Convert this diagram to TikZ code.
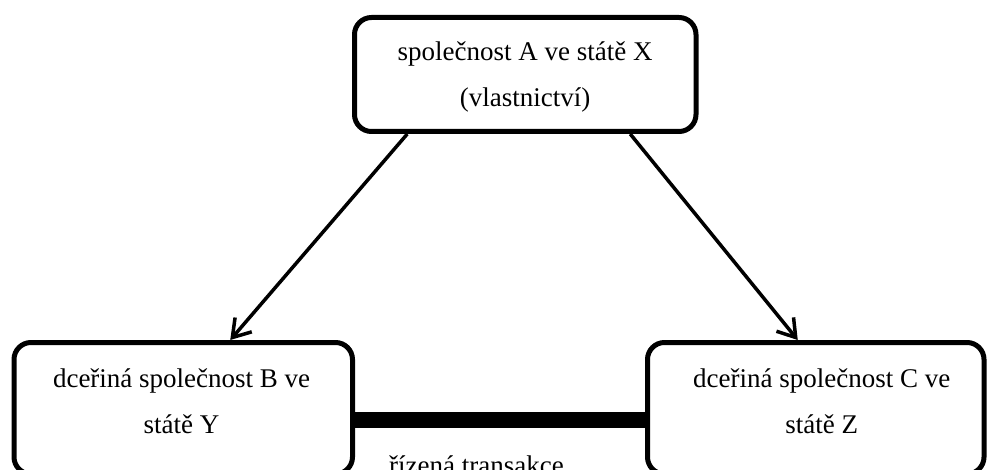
\documentclass[tikz,border=0pt]{standalone}
\usepackage{fontspec}
\setmainfont{Liberation Serif}
\usetikzlibrary{arrows.meta,calc}
\begin{document}
\begin{tikzpicture}[x=1pt,y=-1pt,
  box/.style={draw, line width=5pt, rounded corners=17pt, inner sep=0pt},
  txt/.style={align=center, font=\fontsize{27}{46}\selectfont, anchor=base, inner sep=0pt},
  arr/.style={line width=3.5pt, -{Straight Barb[length=17pt,width=22pt]}},
  link/.style={line width=16pt}]
\clip (0,0) rectangle (987,470);
% company boxes
\node[box, minimum width=341.5pt, minimum height=114pt] (A) at (525.25,74.5) {};
\node[box, minimum width=338.5pt, minimum height=131.5pt] (B) at (183.25,408.25) {};
\node[box, minimum width=336.5pt, minimum height=131.5pt] (C) at (815.75,408.25) {};
% box texts (anchored at the baseline of the last line)
\node[txt] (At) at (525,107) {společnost A ve státě X\\(vlastnictví)};
\node[txt] (Bt) at (181.6,433) {dceřiná společnost B ve\\státě Y};
\node[txt] (Ct) at (821.7,433) {dceřiná společnost C ve\\státě Z};
% ownership arrows
\draw[arr] ($(A.south)+(-118,0)$) -- ($(B.north)+(47,0)$);
\draw[arr] ($(A.south)+(105,0)$) -- ($(C.north)+(-18,0)$);
% controlled transaction
\draw[link] ($(B.east)+(0,11.75)$) -- ($(C.west)+(0,11.75)$);
\node[txt] (L) at (476.5,474) {řízená transakce};
\end{tikzpicture}
\end{document}
